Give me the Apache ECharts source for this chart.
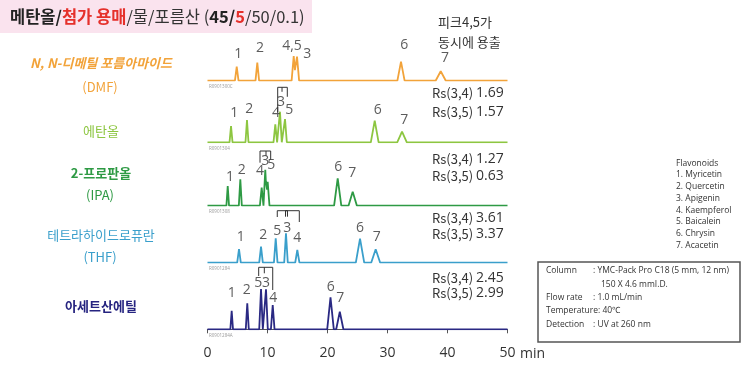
<!DOCTYPE html>
<html><head><meta charset="utf-8">
<script src="https://cdn.jsdelivr.net/npm/echarts@6/dist/echarts.min.js"></script>
<style>html,body{margin:0;padding:0;background:#fff}#c{width:743px;height:373px}</style>
</head><body><div id="c"></div>
<script>
// ---------- DATA ----------
const xTicks = [0, 10, 20, 30, 40, 50];
const xUnit = 'min';
const solventNames = ['N, N-디메틸 포름아마이드', '에탄올', '2-프로판올', '테트라하이드로퓨란', '아세트산에틸'];
const solventAbbr = ['(DMF)', '', '(IPA)', '(THF)', ''];

// retention time (min), peak height (arb.), half base width (min)
const dmfRT = [4.87, 8.3, 14.37, 14.92, 32.25, 38.87];
const dmfH  = [14, 18, 24.5, 24, 19, 9.4];
const dmfW  = [0.3, 0.3, 0.35, 0.35, 0.6, 0.85];
const etohRT = [3.92, 6.58, 11.3, 12.08, 12.92, 27.87, 32.42];
const etohH  = [16.3, 22.3, 18, 30.6, 23.3, 21.6, 10.6];
const etohW  = [0.25, 0.25, 0.3, 0.3, 0.3, 0.65, 0.8];
const ipaRT = [3.37, 5.47, 9.03, 9.63, 10.03, 21.7, 24.2];
const ipaH  = [19.7, 26.4, 18, 36, 24, 27.4, 14];
const ipaW  = [0.22, 0.25, 0.3, 0.3, 0.3, 0.6, 0.7];
const thfRT = [5.25, 8.92, 11.37, 13.08, 14.97, 25.42, 28.03];
const thfH  = [13.7, 16, 24.4, 29.4, 12.7, 24, 13.4];
const thfW  = [0.3, 0.3, 0.3, 0.3, 0.35, 0.7, 0.75];
const eaRT = [4.03, 6.63, 8.92, 9.75, 10.87, 20.5, 22.05];
const eaH  = [18.6, 26, 40.3, 40, 24.3, 32, 17.6];
const eaW  = [0.22, 0.25, 0.3, 0.3, 0.3, 0.55, 0.6];

// peak tags: text, time, height
const dmfTagText = ['1', '2', '4,5', '3', '6', '7'];
const dmfTagRT = [5.13, 8.75, 14.08, 16.63, 32.8, 39.58];
const dmfTagH  = [26.7, 32.4, 34.7, 26.7, 35.7, 22.4];
const etohTagText = ['1', '2', '4', '3', '5', '6', '7'];
const etohTagRT = [4.47, 6.97, 11.42, 12.25, 13.63, 28.37, 32.8];
const etohTagH  = [29, 33, 29, 40.6, 32.3, 32.3, 22.3];
const ipaTagText = ['1', '2', '4', '3', '5', '6', '7'];
const ipaTagRT = [3.75, 5.7, 8.75, 9.62, 10.62, 21.8, 24.13];
const ipaTagH  = [28.7, 35.7, 35, 45, 40.7, 39, 33];
const thfTagText = ['1', '2', '5', '3', '4', '6', '7'];
const thfTagRT = [5.53, 9.3, 11.63, 13.3, 14.97, 25.42, 28.2];
const thfTagH  = [26, 27.7, 31.7, 34.4, 24.4, 34.4, 26];
const eaTagText = ['1', '2', '5', '3', '4', '6', '7'];
const eaTagRT = [4.03, 6.53, 8.47, 9.75, 10.97, 20.53, 22.13];
const eaTagH  = [36, 39.3, 46, 46.3, 31, 42.6, 31];

const rs34 = ['1.69', '1.27', '3.61', '2.45'];
const rs35 = ['1.57', '0.63', '3.37', '2.99'];
const runCodes = ['R0901300C', 'R0901304', 'R0901308', 'R0901284', 'R0901284A'];
const flavonoids = ['1. Myricetin', '2. Quercetin', '3. Apigenin', '4. Kaempferol', '5. Baicalein', '6. Chrysin', '7. Acacetin'];

// ---------- LAYOUT / STYLE ----------
const colors = ['#F2A33A', '#8DC641', '#2E9A44', '#3A9FCB', '#2A2983'];
const textColors = ['#F2A33A', '#8DC641', '#2E9A44', '#3A9FCB', '#262480'];
const baselines = [80.7, 142.3, 205.7, 262.7, 329.3];
const GH = 70;

const traces = [
  [dmfRT, dmfH, dmfW], [etohRT, etohH, etohW], [ipaRT, ipaH, ipaW], [thfRT, thfH, thfW], [eaRT, eaH, eaW]
];
const tags = [
  [dmfTagText, dmfTagRT, dmfTagH], [etohTagText, etohTagRT, etohTagH], [ipaTagText, ipaTagRT, ipaTagH],
  [thfTagText, thfTagRT, thfTagH], [eaTagText, eaTagRT, eaTagH]
];
// bracket polylines in (min, height) per trace
const brackets = [
  [],
  [[[11.7, 30], [11.7, 55], [13.3, 55], [13.3, 45.5]], [[12.42, 55], [12.42, 50.5]]],
  [[[8.75, 43], [8.75, 54.7], [10.53, 54.7], [10.53, 46]], [[9.75, 54.7], [9.75, 50]]],
  [[[11.63, 45.7], [11.63, 52], [13.33, 52], [13.33, 46]], [[13.0, 46], [13.0, 52], [15.3, 52], [15.3, 40.7]]],
  [[[8.53, 53.3], [8.53, 62], [10.87, 62], [10.87, 39.3]], [[9.47, 62], [9.47, 56]]]
];

function buildTrace(rt, h, w) {
  const xs = new Set([xTicks[0], xTicks[xTicks.length - 1]]);
  rt.forEach((t, i) => { xs.add(t - w[i]); xs.add(t); xs.add(t + w[i]); });
  const sorted = [...xs].sort((a, b) => a - b);
  return sorted.map(x => [x, rt.reduce((s, t, i) => s + Math.max(0, h[i] * (1 - Math.abs(x - t) / w[i])), 0)]);
}

const grid = [], xAxis = [], yAxis = [], series = [];
baselines.forEach((b, i) => {
  grid.push({left: 207.5, width: 300, top: b - GH, height: GH});
  const last = i === baselines.length - 1;
  xAxis.push({
    type: 'value', gridIndex: i, min: xTicks[0], max: xTicks[xTicks.length - 1], interval: xTicks[1] - xTicks[0],
    show: last, offset: last ? 341 - b : 0,
    axisLine: {show: true, lineStyle: {color: '#555', width: 1.2}},
    axisTick: {show: true, length: 4, lineStyle: {color: '#555'}},
    splitLine: {show: false},
    axisLabel: {fontSize: 14, color: '#333', margin: 5, fontFamily: 'Open Sans'}
  });
  yAxis.push({type: 'value', gridIndex: i, min: 0, max: GH, show: false, splitLine: {show: false}});
  const [rt, h, w] = traces[i];
  series.push({
    type: 'line', xAxisIndex: i, yAxisIndex: i, data: buildTrace(rt, h, w),
    symbol: 'none', lineStyle: {color: colors[i], width: 1.8}, animation: false, z: 3
  });
  const [tt, tr, th] = tags[i];
  series.push({
    type: 'scatter', xAxisIndex: i, yAxisIndex: i, symbolSize: 0, animation: false, z: 5,
    data: tt.map((t, k) => ({name: t, value: [tr[k], th[k]]})),
    label: {show: true, position: 'inside', formatter: p => p.name, fontSize: 14, color: '#333', fontFamily: 'Open Sans'}
  });
  brackets[i].forEach(br => series.push({
    type: 'line', xAxisIndex: i, yAxisIndex: i, data: br, symbol: 'none',
    lineStyle: {color: '#333', width: 1}, animation: false, z: 4
  }));
});

const graphic = [];
// title
graphic.push({type: 'rect', shape: {x: 0, y: 0, width: 312, height: 33}, style: {fill: '#FAE3EE'}, z: 0});
graphic.push({type: 'text', x: 10, y: 17, z: 1, style: {
  text: '{b|메탄올/}{r|첨가 용매}{n|/물/포름산 (}{b|45/}{r|5}{n|/50/0.1)}',
  verticalAlign: 'middle',
  rich: {
    b: {fontSize: 16.5, fontWeight: 'bold', fill: '#222', fontFamily: 'Noto Sans CJK KR'},
    r: {fontSize: 16.5, fontWeight: 'bold', fill: '#E5302B', fontFamily: 'Noto Sans CJK KR'},
    n: {fontSize: 16.5, fill: '#333', fontFamily: 'Noto Sans CJK KR'}
  }
}});
// axis unit
graphic.push({type: 'text', x: 520, y: 354, style: {text: xUnit, fontSize: 14, fill: '#333', verticalAlign: 'middle', fontFamily: 'Open Sans'}});
// co-elution note
graphic.push({type: 'text', x: 438, y: 21.7, style: {text: '피크4,5가', fontSize: 13, fill: '#333', verticalAlign: 'middle', fontFamily: 'Noto Sans CJK KR'}});
graphic.push({type: 'text', x: 438, y: 41.7, style: {text: '동시에 용출', fontSize: 13, fill: '#333', verticalAlign: 'middle', fontFamily: 'Noto Sans CJK KR'}});
// solvent labels
const nameY = [63.3, 130.7, 173, 235, 305.7];
const abbrY = [86.7, 0, 195, 256.7, 0];
solventNames.forEach((n, i) => {
  graphic.push({type: 'text', x: 101, y: nameY[i], style: {
    text: n, fontSize: 13, fill: textColors[i], align: 'center', verticalAlign: 'middle',
    fontWeight: (i === 0 || i === 2 || i === 4) ? 'bold' : 'normal',
    fontStyle: i === 0 ? 'italic' : 'normal', fontFamily: 'Noto Sans CJK KR'}});
  if (solventAbbr[i]) graphic.push({type: 'text', x: 100, y: abbrY[i], style: {
    text: solventAbbr[i], fontSize: 13, fill: textColors[i], align: 'center', verticalAlign: 'middle', fontFamily: 'Noto Sans CJK KR'}});
});
// Rs values
const rsY = [[93.3, 111.7], [159.3, 176], [218.3, 234], [278.3, 293.3]];
rs34.forEach((v, i) => {
  [['Rs(3,4)', v, rsY[i][0]], ['Rs(3,5)', rs35[i], rsY[i][1]]].forEach(([lab, val, y]) => {
    graphic.push({type: 'text', x: 432, y, style: {text: lab, fontSize: 13, fill: '#333', verticalAlign: 'middle', fontFamily: 'Noto Sans CJK KR'}});
    graphic.push({type: 'text', x: 476, y, style: {text: val, fontSize: 14, fill: '#333', verticalAlign: 'middle', fontFamily: 'Open Sans'}});
  });
});
// run codes
baselines.forEach((b, i) => graphic.push({type: 'text', x: 209, y: b + 4, style: {text: runCodes[i], fontSize: 4.5, fill: '#999', fontFamily: 'Open Sans'}}));
// flavonoids list
graphic.push({type: 'text', x: 676, y: 157.5, style: {
  text: ['Flavonoids'].concat(flavonoids).join('\n'), fontSize: 8.5, lineHeight: 11.7, fill: '#333', fontFamily: 'Open Sans'}});
// info box
graphic.push({type: 'rect', shape: {x: 538, y: 262, width: 202, height: 80}, style: {fill: '#fff', stroke: '#555', lineWidth: 1.5}});
const info = [
  [546, 271, 'Column'], [593, 271, ': YMC-Pack Pro C18 (5 mm, 12 nm)'], [601, 284.3, '150 X 4.6 mmI.D.'],
  [546, 297.7, 'Flow rate'], [593, 297.7, ': 1.0 mL/min'], [546, 311, 'Temperature: 40℃'],
  [546, 325, 'Detection'], [593, 325, ': UV at 260 nm']
];
info.forEach(([x, y, t]) => graphic.push({type: 'text', x, y, style: {text: t, fontSize: 8.5, fill: '#333', verticalAlign: 'middle', fontFamily: 'Open Sans'}}));

const chart = echarts.init(document.getElementById('c'), null, {renderer: 'canvas'});
chart.setOption({animation: false, grid, xAxis, yAxis, series, graphic});
</script></body></html>
